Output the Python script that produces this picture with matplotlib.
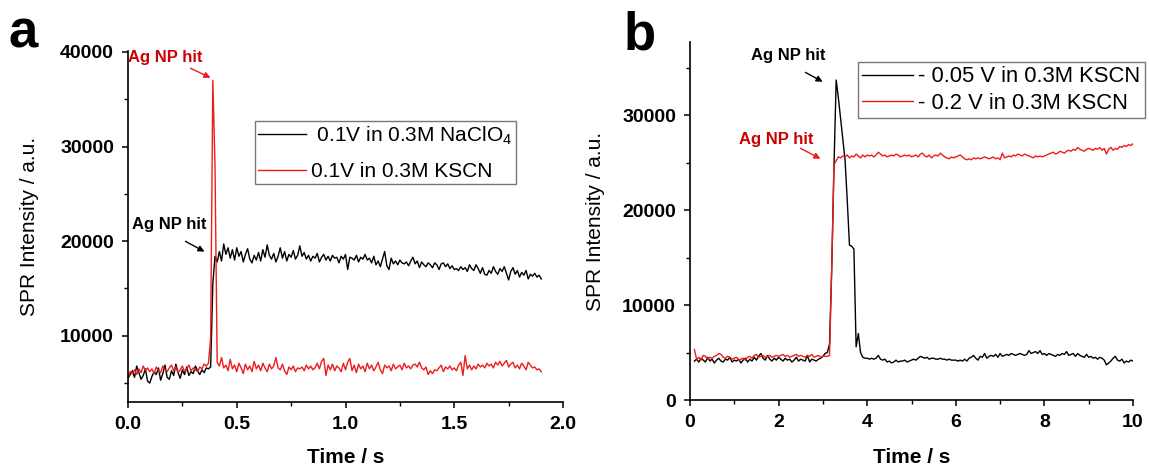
import numpy as np
import matplotlib
matplotlib.use("Agg")
import matplotlib.pyplot as plt
from matplotlib.ticker import MultipleLocator

plt.rcParams['font.family'] = ['Liberation Sans', 'DejaVu Sans']
plt.rcParams['mathtext.default'] = 'regular'

####################### data #######################

# panel a : 0.1V, sampled every 0.01 s from t = 0
dt_a = 0.01
naclo4_a = [
    5500, 5900, 6300, 5600, 6800, 6100, 5400, 5800, 6500, 5200,
    5000, 5700, 6200, 5900, 6600, 5300, 6000, 6900, 5600, 5400,
    6300, 5800, 7000, 6100, 5500, 6400, 5900, 6700, 5800, 6200,
    6000, 6800, 6300, 5900, 6400, 6100, 6600, 6500, 6700, 15500,
    18400, 17800, 18900, 17900, 19700, 18600, 19300, 18200, 19100, 18000,
    19300, 18400, 18900, 17800, 18600, 19200, 18100, 17700, 18500, 18000,
    18800, 17900, 19100, 18300, 19600, 18500, 18100, 18700, 17800, 18400,
    19300, 18200, 18900, 17900, 18600, 18300, 19000, 18100, 18500, 19500,
    18400, 18800, 18100, 18500, 17900, 18400, 18200, 18700, 17800, 18300,
    18600, 18000, 18400, 17900, 18500, 18200, 18300, 17700, 18400, 18100,
    18600, 17000, 18300, 18200, 18000, 18500, 17800, 18300, 18100, 18600,
    18000, 18200, 17700, 18400, 17500, 17900, 17300, 18100, 18900, 17400,
    17000, 18200, 17600, 17900, 17500, 18000, 17700, 17600, 17800, 17400,
    17900, 18300, 17600, 17900, 17200, 17800, 17500, 17300, 17700, 17500,
    17200, 17700, 17500, 17000, 17600, 17700, 17300, 17600, 17100, 17400,
    17000, 17100, 16900, 17300, 17000, 17200, 16800, 17500, 17100, 16900,
    17500, 17100, 16600, 17200, 16500, 16400, 16900, 16600, 17300, 16800,
    16500, 17100, 16800, 17300, 16600, 15900, 16800, 17200, 16500, 16900,
    16200, 16700, 16400, 16900, 16000, 16500, 16300, 16600, 16200, 16400,
    16000,
]
kscn_a = [
    5600, 6200, 6000, 6400, 5900, 6500, 6100, 6800, 6300, 6600,
    6200, 6500, 6000, 6700, 6300, 6100, 6800, 6400, 6200, 6600,
    6900, 6300, 6700, 6100, 6400, 6800, 6200, 6500, 6900, 6300,
    6600, 6400, 6200, 6700, 6500, 7000, 6800, 7100, 9800, 37000,
    28000, 7200, 6800, 7700, 6600, 6900, 6300, 7500, 6500, 6900,
    6200, 7100, 6600, 6000, 7000, 6400, 6800, 6200, 7300, 6500,
    6900, 6300, 7100, 6600, 6200, 7000, 6500, 6800, 7700, 6600,
    6400, 7000, 6300, 5900, 6700, 6400, 6800, 6200, 6600, 6500,
    6700, 6300, 6900, 6500, 6800, 6400, 6600, 7100, 6500, 7300,
    7600, 5800, 6900, 6400, 7000, 6300, 6800, 6600, 6200, 7100,
    6400, 7200, 7600, 6300, 6900, 6100, 7000, 6500, 6800, 6200,
    7100, 6500, 6900, 6300, 6700, 7200, 6400, 6000, 6900, 6600,
    6800, 6300, 7000, 6500, 6700, 6900, 6400, 7100, 6600, 6800,
    6500, 6900, 7000, 6700, 7200, 6600, 6400, 6700, 5900, 6300,
    6000, 6400, 6300, 6600, 6900, 6200, 6700, 6500, 6800, 6400,
    6600, 6300, 6900, 7200, 5800, 7900, 6500, 6900, 6400, 6800,
    6500, 7000, 6700, 6900, 6600, 7100, 6800, 7000, 6600, 7200,
    6900, 7300, 6800, 7100, 7400, 6700, 7000, 7200, 6600, 6900,
    6500, 7100, 6800, 6400, 7200, 6900, 6600, 6700, 6400, 6500,
    6200,
]

# panel b : sampled every 0.05 s from t = 0.1
t0_b = 0.1
dt_b = 0.05
m005_b = [
    4100, 4300, 4000, 4400, 4200, 4000, 4500, 4100, 4300, 3900,
    4200, 4400, 4100, 4000, 4300, 4200, 4500, 4000, 4200, 4100,
    4300, 3900, 4200, 4400, 4000, 4300, 4100, 4500, 4200, 4600,
    4900, 4400, 4200, 4700, 4300, 4100, 4400, 4200, 4500, 4300,
    4100, 4400, 4200, 4300, 4000, 4200, 4500, 4100, 4300, 4200,
    4100, 4700, 4000, 4300, 4200, 4100, 4300, 4400, 4600, 4900,
    5000, 5900, 14000, 24500, 33700, 31800, 29600, 27400, 25300, 21000,
    16300, 16200, 15900, 5600, 7000, 5000, 4500, 4400, 4400,
    4300, 4400, 4300, 4400, 4700, 4300, 4200, 4300, 4000, 4100,
    3900, 4000, 4200, 4000, 4100, 4100, 4200, 4000, 4100, 4200,
    4300, 4200, 4400, 4600, 4500, 4400, 4500, 4300, 4400, 4400,
    4300, 4300, 4400, 4300, 4300, 4200, 4300, 4200, 4200, 4200,
    4100, 4200, 4100, 4300, 4100, 4400, 4500, 4700, 4400, 4200,
    4600, 4500, 4900, 4400, 4600, 4700, 4600, 4800, 4500, 4900,
    4600, 4700, 4800, 4700, 4900, 4800, 4700, 4800, 4900, 4800,
    4700, 4800, 5200, 4900, 5000, 5100, 4900, 5200, 4800, 4900,
    4700, 4900, 4800, 4700, 4600, 4800, 4700, 4900, 4800, 5100,
    4700, 4800, 4900, 4600, 4900, 4700, 4600, 4500, 4800, 4500,
    4600, 4400, 4500, 4300, 4500, 4400, 4200, 3700, 3900, 4100,
    4400, 4600, 4200, 4100, 4300, 3900, 4100, 4000, 4200, 4100,
]
m02_b = [
    5300, 4300, 4500, 4200, 4700, 4600, 4300, 4500, 4400, 4600,
    4700, 4900, 4800, 4500, 4400, 4600, 4500, 4300, 4400, 4500,
    4200, 4300, 4400, 4200, 4500, 4600, 4400, 4700, 4800, 4500,
    4600, 4700, 4500, 4600, 4700, 4500, 4600, 4700, 4600, 4700,
    4800, 4600, 4700, 4500, 4600, 4700, 4800, 4600, 4700, 4600,
    4500, 4700, 4600, 4800, 4500, 4600, 4700, 4500, 4600, 4600,
    4600, 4700, 14000, 24800, 25200, 25600, 25500, 25700, 25600, 25800,
    25500, 25700, 25600, 25900, 25700, 25500, 25800, 25600, 25800,
    25700, 25800, 25600, 25800, 26100, 25900, 25700, 25800, 25600, 25700,
    25800, 25700, 25900, 25800, 25600, 25700, 25800, 25700, 25800, 25600,
    25700, 25800, 25600, 25900, 26000, 25700, 25600, 25800, 25500, 25700,
    25800, 25700, 26000, 25800, 25600, 25500, 25400, 25600, 25500, 25600,
    25700, 25800, 25600, 25400, 25300, 25400, 25300, 25500, 25400, 25500,
    25400, 25500, 25600, 25500, 25400, 25500, 25600, 25400, 25500, 25300,
    26000, 25500, 25600, 25700, 25600, 25800, 25700, 25900, 25800, 25700,
    25900, 25800, 25700, 25600, 25500, 25700, 25600, 25700, 25600, 25700,
    25800, 25900, 26000, 26100, 25900, 26000, 26200, 26100, 26000, 26200,
    26300, 26200, 26400, 26300, 26600, 26400, 26300, 26200, 26400, 26500,
    26400, 26300, 26500, 26400, 26600, 26300, 26500, 25900, 26400, 26600,
    26300, 26500, 26400, 26700, 26600, 26800, 26700, 26900, 26800, 27000,
]

labels_a = [" 0.1V in 0.3M NaClO$_4$", "0.1V in 0.3M KSCN"]
labels_b = ["- 0.05 V in 0.3M KSCN", "- 0.2 V in 0.3M KSCN"]

RED = '#ee1c1c'
DARKRED = '#cc0000'

####################### figure #######################

fig = plt.figure(figsize=(11.49, 4.69), dpi=100)
axA = fig.add_axes([0.1114, 0.1429, 0.3786, 0.7484])
axB = fig.add_axes([0.6005, 0.1471, 0.3856, 0.7633])


def style_axes(ax):
    for s in ['top', 'right']:
        ax.spines[s].set_visible(False)
    for s in ['left', 'bottom']:
        ax.spines[s].set_linewidth(1.2)
    ax.tick_params(which='major', direction='out', length=4, width=1.1,
                   labelsize=14, pad=6)
    ax.tick_params(which='minor', direction='out', length=3, width=1.0)
    for lab in ax.get_xticklabels() + ax.get_yticklabels():
        lab.set_fontweight('bold')
    ax.set_xlabel("Time / s", fontsize=15, fontweight='bold')
    ax.set_ylabel("SPR Intensity / a.u.", fontsize=15)


t_a = np.arange(len(naclo4_a)) * dt_a
axA.plot(t_a, naclo4_a, color='black', lw=1.0, label=labels_a[0])
axA.plot(np.arange(len(kscn_a)) * dt_a, kscn_a, color=RED, lw=1.0, label=labels_a[1])
axA.set_xlim(0, 2.0)
axA.set_ylim(3000, 40100)
axA.xaxis.set_minor_locator(MultipleLocator(0.25))
axA.yaxis.set_minor_locator(MultipleLocator(5000))
axA.set_xticks([0, 0.5, 1.0, 1.5, 2.0])
axA.set_xticklabels(["0.0", "0.5", "1.0", "1.5", "2.0"])
axA.set_yticks([10000, 20000, 30000, 40000])
style_axes(axA)
axA.yaxis.set_label_coords(-0.205, 0.5)
axA.xaxis.set_label_coords(0.5, -0.131)

legA = axA.legend(loc='upper left', bbox_to_anchor=(0.292, 0.80), borderaxespad=0,
                  fontsize=15, frameon=True, fancybox=False, handlelength=2.3,
                  handletextpad=0.25, labelspacing=0.75, borderpad=0.15)
legA.get_frame().set_edgecolor('#555555')
legA.get_frame().set_linewidth(1.0)

axA.text(0.0, 39400, "Ag NP hit", color=DARKRED, fontsize=12, fontweight='bold',
         ha='left', va='center')
axA.annotate('', xy=(0.391, 37140), xytext=(0.276, 38400),
             arrowprops=dict(arrowstyle='-|>', color=RED, lw=1.0, mutation_scale=9))
axA.text(0.018, 21800, "Ag NP hit", color='black', fontsize=12, fontweight='bold',
         ha='left', va='center')
axA.annotate('', xy=(0.363, 18750), xytext=(0.253, 20120),
             arrowprops=dict(arrowstyle='-|>', color='black', lw=1.0, mutation_scale=9))

t_b = t0_b + np.arange(len(m005_b)) * dt_b
axB.plot(t_b, m005_b, color='black', lw=1.0, label=labels_b[0])
axB.plot(t0_b + np.arange(len(m02_b)) * dt_b, m02_b, color=RED, lw=1.0, label=labels_b[1])
axB.set_xlim(0, 10)
axB.set_ylim(0, 37700)
axB.xaxis.set_major_locator(MultipleLocator(2))
axB.xaxis.set_minor_locator(MultipleLocator(1))
axB.yaxis.set_major_locator(MultipleLocator(10000))
axB.yaxis.set_minor_locator(MultipleLocator(5000))
style_axes(axB)
axB.yaxis.set_label_coords(-0.192, 0.5)
axB.xaxis.set_label_coords(0.5, -0.134)

legB = axB.legend(loc='upper left', bbox_to_anchor=(0.379, 0.944), borderaxespad=0,
                  fontsize=15.8, frameon=True, fancybox=False, handlelength=2.3,
                  handletextpad=0.25, labelspacing=0.25, borderpad=0.2)
legB.get_frame().set_edgecolor('#555555')
legB.get_frame().set_linewidth(1.0)

axB.text(2.21, 36330, "Ag NP hit", color='black', fontsize=12, fontweight='bold',
         ha='center', va='center')
axB.annotate('', xy=(3.05, 33380), xytext=(2.55, 34640),
             arrowprops=dict(arrowstyle='-|>', color='black', lw=1.0, mutation_scale=9))
axB.text(1.94, 27480, "Ag NP hit", color=DARKRED, fontsize=12, fontweight='bold',
         ha='center', va='center')
axB.annotate('', xy=(3.0, 25270), xytext=(2.44, 26640),
             arrowprops=dict(arrowstyle='-|>', color=RED, lw=1.0, mutation_scale=9))

fig.text(9 / 1149, 1 - 48 / 469, "a", fontsize=38, fontweight='bold', ha='left', va='baseline')
fig.text(624 / 1149, 1 - 50 / 469, "b", fontsize=38, fontweight='bold', ha='left', va='baseline')

fig.savefig("out.png", dpi=100)
